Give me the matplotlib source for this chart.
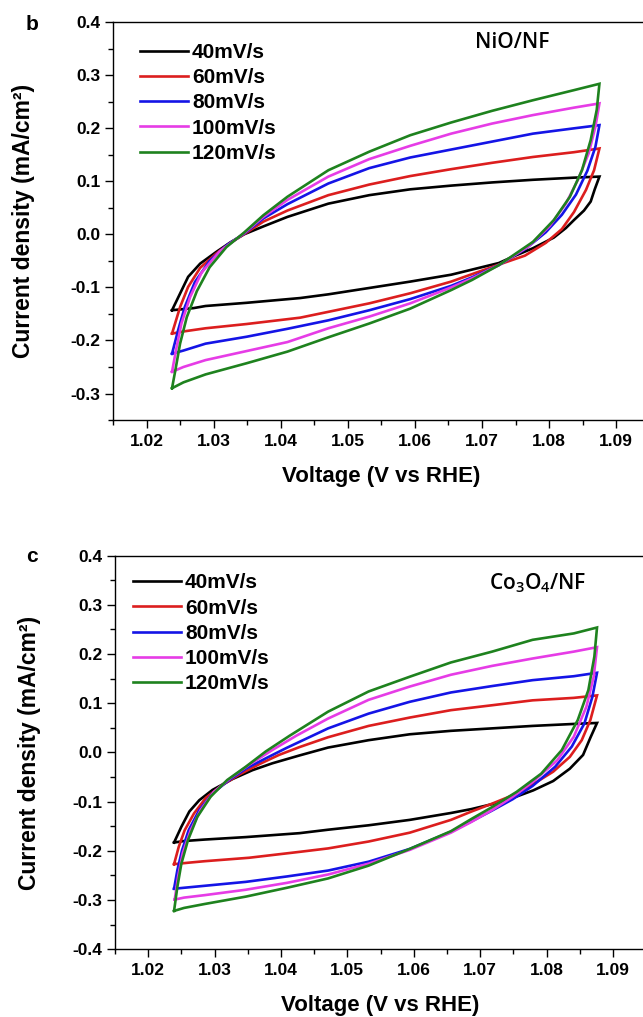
import numpy as np
import matplotlib
matplotlib.use('Agg')
import matplotlib.pyplot as plt
from matplotlib.ticker import MultipleLocator, FormatStrFormatter

# 扫描速率与颜色
rates = ['40mV/s', '60mV/s', '80mV/s', '100mV/s', '120mV/s']
colors = ['#000000', '#dc1e1e', '#1414e6', '#e63ce6', '#1e821e']

# ---- NiO/NF 循环伏安数据 (正扫 -> 回扫, 闭合) ----
nio_40_v = [1.0238, 1.0262, 1.0280, 1.0304, 1.0325, 1.0345, 1.0374, 1.0410, 1.0471, 1.0532, 1.0593, 1.0654, 1.0715, 1.0776, 1.0837, 1.0875,
            1.0868, 1.0862, 1.0852, 1.0837, 1.0825, 1.0807, 1.0776, 1.0746, 1.0725, 1.0654, 1.0593, 1.0532, 1.0471, 1.0429, 1.0349, 1.0288, 1.0270, 1.0238]
nio_40_j = [-0.143, -0.080, -0.055, -0.033, -0.015, 0.000, 0.015, 0.033, 0.058, 0.074, 0.085, 0.092, 0.098, 0.103, 0.107, 0.109,
            0.085, 0.062, 0.045, 0.027, 0.012, -0.006, -0.026, -0.042, -0.054, -0.076, -0.089, -0.101, -0.113, -0.120, -0.129, -0.135, -0.139, -0.143]

nio_60_v = [1.0238, 1.0250, 1.0262, 1.0280, 1.0304, 1.0325, 1.0345, 1.0374, 1.0410, 1.0471, 1.0532, 1.0593, 1.0654, 1.0715, 1.0776, 1.0837, 1.0875,
            1.0867, 1.0855, 1.0837, 1.0819, 1.0795, 1.0764, 1.0725, 1.0685, 1.0654, 1.0593, 1.0532, 1.0471, 1.0429, 1.0349, 1.0288, 1.0255, 1.0238]
nio_60_j = [-0.187, -0.137, -0.099, -0.063, -0.036, -0.016, 0.000, 0.024, 0.045, 0.074, 0.094, 0.110, 0.123, 0.135, 0.146, 0.155, 0.162,
            0.121, 0.084, 0.042, 0.010, -0.016, -0.040, -0.057, -0.075, -0.089, -0.111, -0.130, -0.146, -0.157, -0.169, -0.177, -0.183, -0.187]

nio_80_v = [1.0238, 1.0247, 1.0257, 1.0272, 1.0294, 1.0320, 1.0345, 1.0374, 1.0410, 1.0471, 1.0532, 1.0593, 1.0654, 1.0715, 1.0776, 1.0837, 1.0875,
            1.0869, 1.0857, 1.0840, 1.0819, 1.0795, 1.0764, 1.0725, 1.0685, 1.0654, 1.0593, 1.0532, 1.0471, 1.0410, 1.0349, 1.0288, 1.0255, 1.0238]
nio_80_j = [-0.225, -0.181, -0.137, -0.090, -0.050, -0.020, 0.001, 0.030, 0.057, 0.096, 0.125, 0.145, 0.160, 0.175, 0.190, 0.200, 0.206,
            0.165, 0.120, 0.075, 0.037, 0.004, -0.028, -0.058, -0.081, -0.097, -0.122, -0.143, -0.162, -0.178, -0.193, -0.206, -0.219, -0.225]

nio_100_v = [1.0238, 1.0244, 1.0252, 1.0265, 1.0282, 1.0309, 1.0345, 1.0374, 1.0410, 1.0471, 1.0532, 1.0593, 1.0654, 1.0715, 1.0776, 1.0837, 1.0875,
             1.0869, 1.0859, 1.0843, 1.0825, 1.0801, 1.0770, 1.0725, 1.0685, 1.0654, 1.0593, 1.0532, 1.0471, 1.0410, 1.0349, 1.0288, 1.0255, 1.0238]
nio_100_j = [-0.259, -0.218, -0.168, -0.118, -0.072, -0.032, 0.002, 0.033, 0.065, 0.109, 0.142, 0.167, 0.190, 0.209, 0.225, 0.239, 0.247,
             0.203, 0.153, 0.103, 0.058, 0.016, -0.022, -0.058, -0.083, -0.100, -0.130, -0.155, -0.177, -0.203, -0.220, -0.237, -0.250, -0.259]

nio_120_v = [1.0238, 1.0243, 1.0250, 1.0260, 1.0275, 1.0294, 1.0319, 1.0345, 1.0374, 1.0410, 1.0471, 1.0532, 1.0593, 1.0654, 1.0715, 1.0776, 1.0837, 1.0875,
             1.0871, 1.0862, 1.0849, 1.0831, 1.0807, 1.0776, 1.0725, 1.0685, 1.0654, 1.0593, 1.0532, 1.0471, 1.0410, 1.0349, 1.0288, 1.0255, 1.0238]
nio_120_j = [-0.290, -0.256, -0.206, -0.156, -0.107, -0.062, -0.024, 0.003, 0.036, 0.071, 0.121, 0.156, 0.187, 0.211, 0.233, 0.253, 0.272, 0.284,
             0.235, 0.178, 0.121, 0.071, 0.027, -0.014, -0.058, -0.086, -0.105, -0.140, -0.168, -0.194, -0.221, -0.243, -0.264, -0.279, -0.290]

# ---- Co3O4/NF 循环伏安数据 ----
co_40_v = [1.0239, 1.0250, 1.0262, 1.0277, 1.0297, 1.0327, 1.0357, 1.0387, 1.0428, 1.0471, 1.0532, 1.0594, 1.0656, 1.0718, 1.0779, 1.0841, 1.0876,
           1.0866, 1.0855, 1.0835, 1.0810, 1.0780, 1.0750, 1.0718, 1.0687, 1.0656, 1.0594, 1.0532, 1.0471, 1.0428, 1.0347, 1.0285, 1.0254, 1.0239]
co_40_j = [-0.183, -0.151, -0.120, -0.097, -0.076, -0.054, -0.036, -0.022, -0.006, 0.010, 0.025, 0.037, 0.044, 0.049, 0.054, 0.058, 0.060,
           0.030, -0.005, -0.033, -0.058, -0.077, -0.092, -0.105, -0.115, -0.123, -0.137, -0.148, -0.157, -0.164, -0.172, -0.177, -0.180, -0.183]

co_60_v = [1.0239, 1.0246, 1.0255, 1.0269, 1.0287, 1.0312, 1.0337, 1.0367, 1.0397, 1.0428, 1.0471, 1.0532, 1.0594, 1.0656, 1.0718, 1.0779, 1.0841, 1.0876,
           1.0866, 1.0853, 1.0835, 1.0810, 1.0779, 1.0749, 1.0718, 1.0687, 1.0656, 1.0594, 1.0532, 1.0471, 1.0428, 1.0352, 1.0285, 1.0261, 1.0239]
co_60_j = [-0.227, -0.192, -0.158, -0.124, -0.092, -0.066, -0.045, -0.024, -0.005, 0.011, 0.031, 0.054, 0.071, 0.086, 0.096, 0.106, 0.111, 0.116,
           0.066, 0.025, -0.009, -0.039, -0.065, -0.087, -0.104, -0.120, -0.137, -0.163, -0.181, -0.195, -0.202, -0.214, -0.221, -0.224, -0.227]

co_80_v = [1.0239, 1.0244, 1.0251, 1.0261, 1.0277, 1.0297, 1.0322, 1.0347, 1.0377, 1.0408, 1.0471, 1.0532, 1.0594, 1.0656, 1.0718, 1.0779, 1.0841, 1.0876,
           1.0869, 1.0857, 1.0838, 1.0813, 1.0779, 1.0749, 1.0718, 1.0687, 1.0656, 1.0594, 1.0532, 1.0471, 1.0409, 1.0347, 1.0285, 1.0254, 1.0239]
co_80_j = [-0.277, -0.239, -0.199, -0.158, -0.117, -0.083, -0.056, -0.033, -0.012, 0.009, 0.049, 0.079, 0.103, 0.122, 0.135, 0.147, 0.155, 0.162,
           0.113, 0.059, 0.012, -0.029, -0.068, -0.095, -0.118, -0.140, -0.161, -0.196, -0.222, -0.240, -0.252, -0.263, -0.271, -0.275, -0.277]

co_100_v = [1.0240, 1.0245, 1.0252, 1.0264, 1.0279, 1.0299, 1.0324, 1.0352, 1.0387, 1.0423, 1.0471, 1.0532, 1.0594, 1.0656, 1.0718, 1.0779, 1.0841, 1.0876,
            1.0871, 1.0860, 1.0841, 1.0816, 1.0779, 1.0749, 1.0718, 1.0687, 1.0656, 1.0594, 1.0532, 1.0471, 1.0409, 1.0347, 1.0285, 1.0254, 1.0240]
co_100_j = [-0.299, -0.253, -0.205, -0.158, -0.117, -0.080, -0.052, -0.025, 0.005, 0.034, 0.069, 0.107, 0.134, 0.158, 0.176, 0.191, 0.205, 0.214,
            0.154, 0.093, 0.032, -0.016, -0.060, -0.090, -0.117, -0.141, -0.163, -0.198, -0.226, -0.248, -0.265, -0.279, -0.290, -0.295, -0.299]

co_120_v = [1.0239, 1.0244, 1.0250, 1.0260, 1.0274, 1.0294, 1.0319, 1.0347, 1.0377, 1.0413, 1.0471, 1.0532, 1.0594, 1.0656, 1.0718, 1.0779, 1.0841, 1.0876,
            1.0872, 1.0863, 1.0847, 1.0823, 1.0792, 1.0755, 1.0718, 1.0687, 1.0656, 1.0594, 1.0532, 1.0471, 1.0409, 1.0347, 1.0285, 1.0254, 1.0239]
co_120_j = [-0.322, -0.273, -0.226, -0.178, -0.131, -0.090, -0.056, -0.029, 0.002, 0.034, 0.083, 0.124, 0.154, 0.183, 0.205, 0.229, 0.242, 0.254,
            0.195, 0.127, 0.066, 0.005, -0.043, -0.080, -0.111, -0.135, -0.160, -0.196, -0.230, -0.256, -0.275, -0.293, -0.308, -0.316, -0.322]

nio_curves = [(nio_40_v, nio_40_j), (nio_60_v, nio_60_j), (nio_80_v, nio_80_j),
              (nio_100_v, nio_100_j), (nio_120_v, nio_120_j)]
co_curves = [(co_40_v, co_40_j), (co_60_v, co_60_j), (co_80_v, co_80_j),
             (co_100_v, co_100_j), (co_120_v, co_120_j)]

x_ticks = [1.02, 1.03, 1.04, 1.05, 1.06, 1.07, 1.08, 1.09]

plt.rcParams['font.family'] = ['Liberation Sans', 'DejaVu Sans']
plt.rcParams['axes.unicode_minus'] = False
plt.rcParams['mathtext.fontset'] = 'custom'
plt.rcParams['mathtext.rm'] = 'Open Sans:semibold'

fig = plt.figure(figsize=(6.43, 10.17), dpi=100)
ax_top = fig.add_axes([0.1757, 0.5870, 0.8348, 0.3911])
ax_bot = fig.add_axes([0.1788, 0.0666, 0.8261, 0.3870])


def draw_panel(ax, curves, ylim, yticks, legend_anchor, ylabel_x):
    for (v, j), c, lab in zip(curves, colors, rates):
        ax.plot(v, j, color=c, lw=1.9, label=lab, solid_joinstyle='miter')
    ax.set_xlim(1.015, 1.095)
    ax.set_ylim(*ylim)
    ax.set_xticks(x_ticks)
    ax.set_yticks(yticks)
    ax.xaxis.set_minor_locator(MultipleLocator(0.005))
    ax.yaxis.set_minor_locator(MultipleLocator(0.05))
    ax.xaxis.set_major_formatter(FormatStrFormatter('%.2f'))
    ax.yaxis.set_major_formatter(FormatStrFormatter('%.1f'))
    ax.tick_params(which='major', direction='out', length=6, width=1.0, labelsize=12.5)
    ax.tick_params(which='minor', direction='out', length=3.3, width=1.0)
    ax.tick_params(axis='x', which='major', pad=4)
    ax.tick_params(axis='y', which='major', pad=3)
    for lbl in ax.get_xticklabels() + ax.get_yticklabels():
        lbl.set_fontweight('bold')
    for s in ax.spines.values():
        s.set_linewidth(1.0)
    ax.set_xlabel('Voltage (V vs RHE)', fontsize=16, fontweight='bold', labelpad=12)
    ax.set_ylabel('Current density (mA/cm²)', fontsize=16.5, fontweight='bold')
    ax.yaxis.set_label_coords(ylabel_x, 0.5)
    ax.legend(loc='upper left', bbox_to_anchor=legend_anchor, frameon=False,
              handlelength=2.3, handletextpad=0.2, labelspacing=0.3,
              borderpad=0, borderaxespad=0,
              prop={'weight': 'bold', 'size': 15})


draw_panel(ax_top, nio_curves, (-0.35, 0.4), [-0.3, -0.2, -0.1, 0.0, 0.1, 0.2, 0.3, 0.4], (0.05, 0.948), -0.146)
draw_panel(ax_bot, co_curves, (-0.4, 0.4), [-0.4, -0.3, -0.2, -0.1, 0.0, 0.1, 0.2, 0.3, 0.4], (0.034, 0.955), -0.139)

ax_top.text(1.0745, 0.361, 'NiO/NF', fontsize=15, family='Open Sans', fontweight='semibold',
            ha='center', va='center')
ax_bot.text(1.0786, 0.345, r'Co$_3$O$_4$/NF', fontsize=15, family='Open Sans', fontweight='semibold',
            ha='center', va='center')

fig.text(32 / 643, 1 - 25 / 1017, 'b', fontsize=15, fontweight='bold', ha='center', va='center')
fig.text(32 / 643, 1 - 556 / 1017, 'c', fontsize=15, fontweight='bold', ha='center', va='center')

fig.savefig('out.png', dpi=100)
